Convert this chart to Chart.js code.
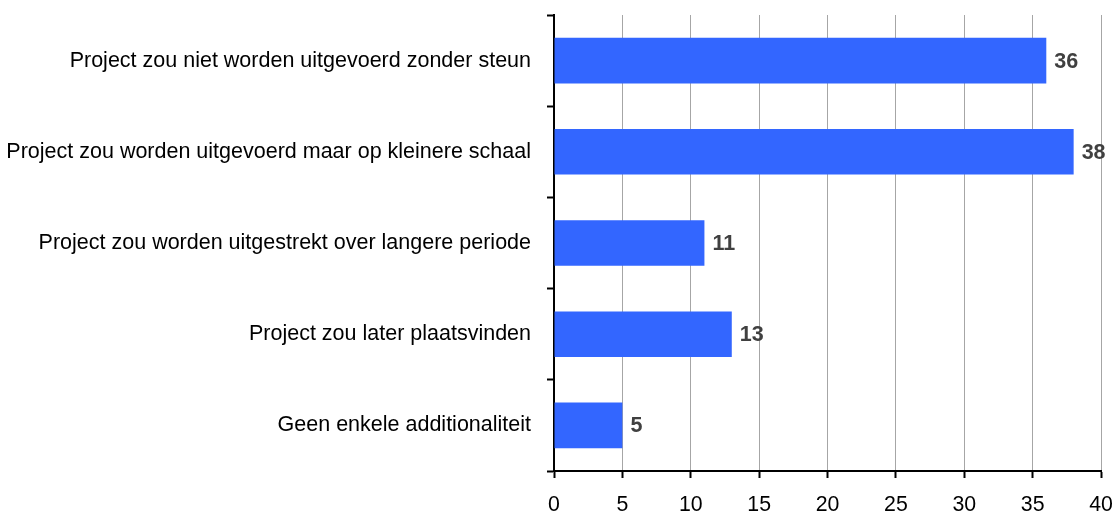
<!DOCTYPE html>
<html>
<head>
<meta charset="utf-8">
<script src="https://cdn.jsdelivr.net/npm/chart.js@4/dist/chart.umd.min.js"></script>
<style>
  html, body { margin: 0; padding: 0; background: #fff; }
  #wrap { width: 1114px; height: 511px; }
</style>
</head>
<body>
<div id="wrap"><canvas id="chart"></canvas></div>
<script>
const categories = [
  "Project zou niet worden uitgevoerd zonder steun",
  "Project zou worden uitgevoerd maar op kleinere schaal",
  "Project zou worden uitgestrekt over langere periode",
  "Project zou later plaatsvinden",
  "Geen enkele additionaliteit"
];
const values = [36, 38, 11, 13, 5];
const xTicks = [0, 5, 10, 15, 20, 25, 30, 35, 40];

const fontFamily = "'Liberation Sans', Arial, sans-serif";

// draw the numbers next to the bars
const barLabels = {
  id: "barLabels",
  afterDatasetsDraw(chart) {
    const ctx = chart.ctx;
    const meta = chart.getDatasetMeta(0);
    ctx.save();
    ctx.font = "bold 21.5px " + fontFamily;
    ctx.fillStyle = "#404040";
    ctx.textAlign = "left";
    ctx.textBaseline = "middle";
    meta.data.forEach((bar, i) => {
      ctx.fillText(String(values[i]), bar.x + 8, bar.y + 1);
    });
    ctx.restore();
  }
};

new Chart(document.getElementById("chart"), {
  type: "bar",
  data: {
    labels: categories,
    datasets: [{
      data: values,
      backgroundColor: "#3366FF",
      borderWidth: 0,
      barPercentage: 0.5,
      categoryPercentage: 1
    }]
  },
  options: {
    indexAxis: "y",
    responsive: true,
    maintainAspectRatio: false,
    animation: false,
    layout: { padding: 0 },
    plugins: {
      legend: { display: false },
      tooltip: { enabled: false }
    },
    scales: {
      x: {
        min: 0,
        max: 40,
        afterBuildTicks: (scale) => { scale.ticks = xTicks.map(v => ({ value: v })); },
        afterFit: (scale) => {
          scale.height = 40;
          scale.paddingLeft = 0;
          scale.paddingRight = 13;
        },
        grid: {
          color: "#a6a6a6",
          lineWidth: 1,
          tickColor: "#000",
          tickLength: 7,
          tickWidth: 2
        },
        border: { color: "#000", width: 2 },
        ticks: {
          color: "#000",
          padding: 14,
          font: { family: fontFamily, size: 21.3 }
        }
      },
      y: {
        afterFit: (scale) => {
          scale.width = 554;
          scale.paddingTop = 15;
          scale.paddingBottom = 0;
        },
        grid: {
          drawOnChartArea: false,
          offset: true,
          tickColor: "#000",
          tickLength: 7,
          tickWidth: 2
        },
        border: { color: "#000", width: 2 },
        ticks: {
          color: "#000",
          padding: 16,
          font: { family: fontFamily, size: 21.5 }
        }
      }
    }
  },
  plugins: [barLabels]
});
</script>
</body>
</html>
